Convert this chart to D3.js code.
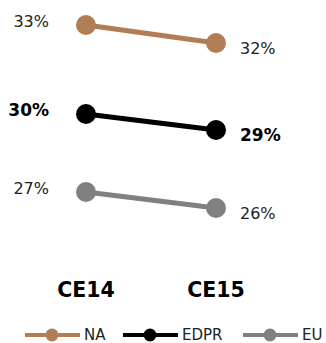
<!DOCTYPE html>
<html><head><meta charset="utf-8">
<script src="https://cdn.jsdelivr.net/npm/d3@7"></script>
<style>body{margin:0;background:#fff}svg{display:block}</style>
</head><body><svg id="c" width="326" height="343"></svg>
<script>
const categories = ["CE14", "CE15"];
const seriesNames = ["NA", "EDPR", "EU"];
const valuesNA = [33.2, 32.48];
const valuesEDPR = [29.64, 29.0];
const valuesEU = [26.52, 25.88];
const labelsNA = ["33%", "32%"];
const labelsEDPR = ["30%", "29%"];
const labelsEU = ["27%", "26%"];

const colors = {NA: "#b07d57", EDPR: "#000000", EU: "#808080"};
const series = [
  {name: "NA", values: valuesNA, labels: labelsNA, bold: false},
  {name: "EDPR", values: valuesEDPR, labels: labelsEDPR, bold: true},
  {name: "EU", values: valuesEU, labels: labelsEU, bold: false}
];

const svg = d3.select("#c");
const x = d3.scalePoint().domain(categories).range([86, 216]);
const y = d3.scaleLinear().domain([25, 34]).range([230, 5]);
const font = "DejaVu Sans, Verdana, sans-serif";

const line = d3.line().x((d, i) => x(categories[i])).y(d => y(d));

series.forEach(s => {
  const g = svg.append("g");
  g.append("path").attr("d", line(s.values)).attr("fill", "none")
    .attr("stroke", colors[s.name]).attr("stroke-width", 5);
  g.selectAll("circle").data(s.values).join("circle")
    .attr("cx", (d, i) => x(categories[i])).attr("cy", d => y(d))
    .attr("r", 10).attr("fill", colors[s.name]);
  g.selectAll("text").data(s.values).join("text")
    .attr("x", (d, i) => i === 0 ? x(categories[i]) - 37 : x(categories[i]) + 24)
    .attr("y", (d, i) => y(d) + (i === 0 ? -4 : 5))
    .attr("dy", "0.35em")
    .attr("text-anchor", (d, i) => i === 0 ? "end" : "start")
    .attr("font-family", font)
    .attr("font-size", s.bold ? 17 : 16)
    .attr("font-weight", s.bold ? "bold" : "normal")
    .attr("fill", s.bold ? "#000" : "#222")
    .text((d, i) => s.labels[i]);
});

svg.append("g").selectAll("text").data(categories).join("text")
  .attr("x", d => x(d)).attr("y", 297)
  .attr("text-anchor", "middle").attr("font-family", font)
  .attr("font-size", 20.5).attr("font-weight", "bold").attr("fill", "#000")
  .text(d => d);

const legendX = [25, 123, 243];
const lg = svg.append("g");
seriesNames.forEach((n, i) => {
  const lx = legendX[i];
  lg.append("line").attr("x1", lx).attr("x2", lx + 55).attr("y1", 335).attr("y2", 335)
    .attr("stroke", colors[n]).attr("stroke-width", 4);
  lg.append("circle").attr("cx", lx + 27).attr("cy", 335).attr("r", 6.5).attr("fill", colors[n]);
  lg.append("text").attr("x", lx + 59).attr("y", 335).attr("dy", "0.35em")
    .attr("font-family", font).attr("font-size", 15).attr("fill", "#222").text(n);
});
</script></body></html>
